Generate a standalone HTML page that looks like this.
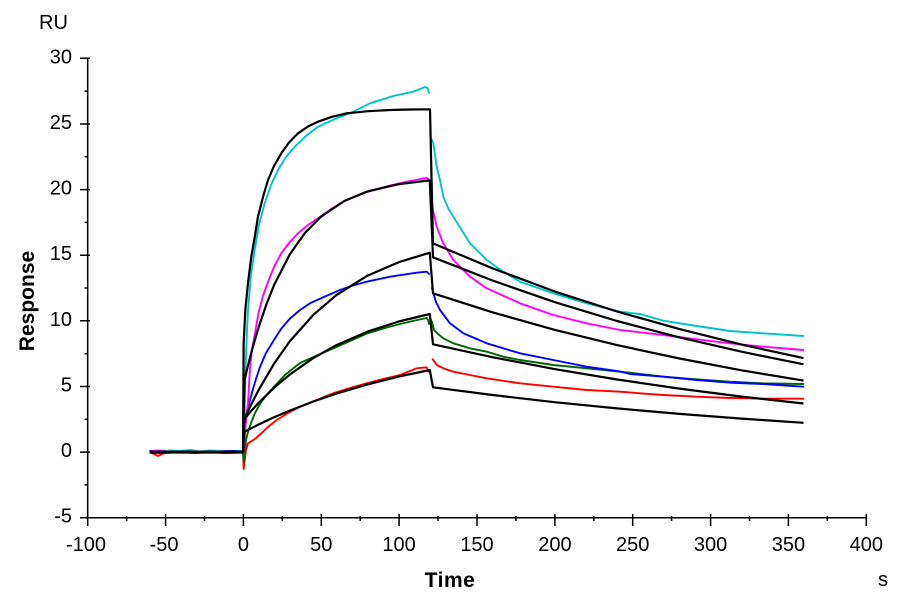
<!DOCTYPE html>
<html><head><meta charset="utf-8"><style>
html,body{margin:0;padding:0;background:#fff;}
svg{display:block;}
text{font-family:"Liberation Sans",Arial,sans-serif;fill:#000;}
</style></head><body>
<svg width="900" height="600" viewBox="0 0 900 600" xmlns="http://www.w3.org/2000/svg">
<rect width="900" height="600" fill="#fff"/>
<!-- axes -->
<g stroke="#000" stroke-width="1.5" fill="none">
<line x1="87.7" y1="58.3" x2="87.7" y2="518.4"/>
<line x1="87" y1="517.7" x2="866.3" y2="517.7"/>
<!-- y major -->
<path d="M80 58.3H90M80 124H90M80 189.6H90M80 255.2H90M80 320.8H90M80 386.5H90M80 452.1H90M80 517.7H90"/>
<!-- y minor -->
<path d="M84.5 91.1H88M84.5 156.8H88M84.5 222.4H88M84.5 288H88M84.5 353.7H88M84.5 419.3H88M84.5 484.9H88"/>
<!-- x major -->
<path d="M87.7 514V526M165.6 514V526M243.4 514V526M321.3 514V526M399.1 514V526M477 514V526M554.9 514V526M632.7 514V526M710.6 514V526M788.4 514V526M866.3 514V526"/>
<!-- x minor -->
<path d="M126.6 516V521M204.5 516V521M282.3 516V521M360.2 516V521M438 516V521M515.9 516V521M593.8 516V521M671.6 516V521M749.5 516V521M827.3 516V521"/>
</g>
<!-- tick labels -->
<g font-size="20" text-anchor="end">
<text x="72" y="63.3">30</text>
<text x="72" y="129">25</text>
<text x="72" y="194.6">20</text>
<text x="72" y="260.2">15</text>
<text x="72" y="325.8">10</text>
<text x="72" y="391.5">5</text>
<text x="72" y="457.1">0</text>
<text x="72" y="522.7">-5</text>
</g>
<g font-size="20" text-anchor="middle">
<text x="86" y="551">-100</text>
<text x="164" y="551">-50</text>
<text x="243.4" y="551">0</text>
<text x="321.3" y="551">50</text>
<text x="399.1" y="551">100</text>
<text x="477" y="551">150</text>
<text x="554.9" y="551">200</text>
<text x="632.7" y="551">250</text>
<text x="710.6" y="551">300</text>
<text x="788.4" y="551">350</text>
<text x="866.3" y="551">400</text>
</g>
<text x="39" y="29" font-size="20">RU</text>
<text x="878" y="586" font-size="20">s</text>
<text x="450" y="587" font-size="21" font-weight="bold" text-anchor="middle" letter-spacing="0.5">Time</text>
<text x="0" y="0" font-size="21" font-weight="bold" text-anchor="middle" transform="translate(34 301) rotate(-90)">Response</text>

<!-- colored data -->
<g fill="none" stroke-width="1.9" stroke-linejoin="round" stroke-linecap="round">
<!-- red -->
<polyline stroke="#ff0000" points="150,452 158,456 166,452 180,451.5 195,452.5 210,451.5 225,452.5 240,452 243,452 243.7,469 244.5,462 246,450 248,443.3 255,439 261.3,433.3 268,427 276.7,420 288,413 300,406.7 316.7,400 333.3,393.3 350,388 366.7,383.3 383,379 400,375 410,371 416.7,368.3 426.7,367.3 428.3,371.7"/>
<polyline stroke="#ff0000" points="432.7,359.3 436.7,365 445,369 453.3,371.7 470,375 486.7,378.3 520,383.3 553.3,386.7 586.7,390 620,391.7 640,393.3 663.3,395 696.7,396.7 730,398 763.3,398.7 803.3,398.7"/>
<!-- green -->
<polyline stroke="#006400" points="150,452.5 165,453 180,452 195,453 210,452 225,453 240,452.5 243,452 243.7,462 244.5,455 246,440 248,432 251,423 255,413 260,404 265,397 270,391 277,383.5 285,375 300,363 318,355 333,348.5 350,341 367,333.5 385,328 400,324 415,320.5 426.7,318 428,320 429,324"/>
<polyline stroke="#006400" points="430,318 432,322 434,330 438,334 443.3,338.3 453.3,343.3 470,348.3 486.7,351.7 503.3,356.7 520,360 553.3,365 586.7,368.3 620,371.7 630,372.7 663.3,376.7 696.7,379.3 730,381.7 763.3,383.3 803.3,384"/>
<!-- blue -->
<polyline stroke="#0000ff" points="150,451 165,452 180,451 195,452 210,451.5 225,451 240,451 243,452 243.5,452 244.5,440 245.5,425 247.3,410 250,400 253,389 256,379 260,367 266,353 273.3,341 281,329 290,318.5 300,310 310,303.3 325,296.5 340,290 353,285.5 366.7,281.7 390,276.7 416.7,272.7 426.7,271.7 429,274"/>
<polyline stroke="#0000ff" points="432,288 433.3,293.3 436,302 440,310 450,323.3 463.3,333.3 486.7,343.3 520,353.3 553.3,360 586.7,366.7 620,371.5 630,374 663.3,376.7 696.7,380 730,382.7 763.3,384 803.3,386.7"/>
<!-- magenta -->
<polyline stroke="#ff00ff" points="150,451 160,450.5 175,451.5 190,451 205,452 220,451 235,452 243,452 243.5,452 245,430 246.5,415 248,403 250,368 252,350 255,333 258.7,312 263,296 268,282 274,267 281.3,253.3 289,243 298,233.3 308,225 318,218.3 332,208.5 346.7,200 360,194.5 373.3,190 390,185.5 406.7,181.7 418,179.5 426.7,177.7 429,180"/>
<polyline stroke="#ff00ff" points="430,181 431.5,200 433.3,211.7 436.7,226.7 443.3,243.3 453.3,260 470,276.7 486.7,288.3 520,303.3 553.3,315 586.7,323.3 620,330 640,332.3 663.3,335 696.7,339.3 730,343.3 763.3,346.7 803.3,350"/>
<!-- cyan -->
<polyline stroke="#00c4c4" points="150,451.5 160,452 170,450.5 180,451 190,450 200,451.5 210,450.5 220,451 230,452 240,451 243,452 243.5,452 244.5,420 245.5,370 247,330 248,310 251,275 254.7,250 259,225 264.7,203.3 271,185 278,170 286,157 294.7,146.7 306,136 318,126.7 335,119 353.3,111.7 370,103.3 393.3,96 413.3,91.7 420,89 425,87 427.5,88 429,93"/>
<polyline stroke="#00c4c4" points="432,140 433.3,143.3 436.7,166.7 440,180 443.3,196.7 448.3,208.3 453.3,216.7 470,243.3 486.7,260 503.3,271.7 520,281.7 553.3,293.3 586.7,303.3 620,311.7 640,314 663.3,320.7 696.7,326 730,331 763.3,333.3 803.3,336"/>
</g>

<!-- black fits -->
<g fill="none" stroke="#000" stroke-width="2.2" stroke-linejoin="round">
<line x1="150" y1="452.1" x2="243.5" y2="452.1" stroke-width="3"/>
<!-- b1 -->
<polyline points="243,452.1 243.6,345 245.3,310 248,283 251.3,256.7 255,235.5 258,216.7 263,197 268,180 274,166 281.3,153.3 289,142.5 298,133.3 308,126.5 318,121.7 332,116.8 346.7,113.3 368,111.2 390,110 410,109.5 430,109.3 433,243.4 492.5,268.3 554.5,291.4 617,311.5 679.5,329.1 741.5,344.6 803.5,358.1"/>
<!-- b2 -->
<polyline points="243,452.1 244,400 244.6,379.6 247.7,366.6 252.3,348.8 258.6,327.4 266.4,304.4 274.1,285 289.7,254.5 305.3,232.5 320.9,216.8 344.2,201 367.6,191.4 398.7,184.2 429.8,180.4 433,257.3 492.5,280.5 554.5,302.1 617,321 679.5,337.4 741.5,351.7 803.5,364.3"/>
<!-- b3 -->
<polyline points="243,452.1 244,425 244.6,418.5 250.8,405.2 258.6,390.1 274.1,363.6 289.7,341.4 313.1,315.1 336.4,295.1 367.6,275.6 398.7,262.2 429.8,252.7 433,293.3 492.5,312.3 554.5,329.8 617,345.1 679.5,358.5 741.5,370.3 803.5,380.6"/>
<!-- b4 -->
<polyline points="243,452.1 244,425 244.6,418.7 250.8,411.4 258.6,402.9 274.1,387.7 289.7,374.6 313.1,358.2 336.4,345.1 367.6,331.6 398.7,321.5 429.8,314 433,344.3 492.5,357.2 554.5,369.1 617,379.5 679.5,388.6 741.5,396.6 803.5,403.5"/>
<!-- b5 -->
<polyline points="243,452.1 244,434 244.6,431.6 258.6,424.5 274.1,417.3 289.7,410.6 313.1,401.6 336.4,393.6 367.6,384.4 398.7,376.6 429.8,370 433,387.3 492.5,395 554.5,402.2 617,408.4 679.5,413.9 741.5,418.6 803.5,422.8"/>
</g>
</svg>
</body></html>
